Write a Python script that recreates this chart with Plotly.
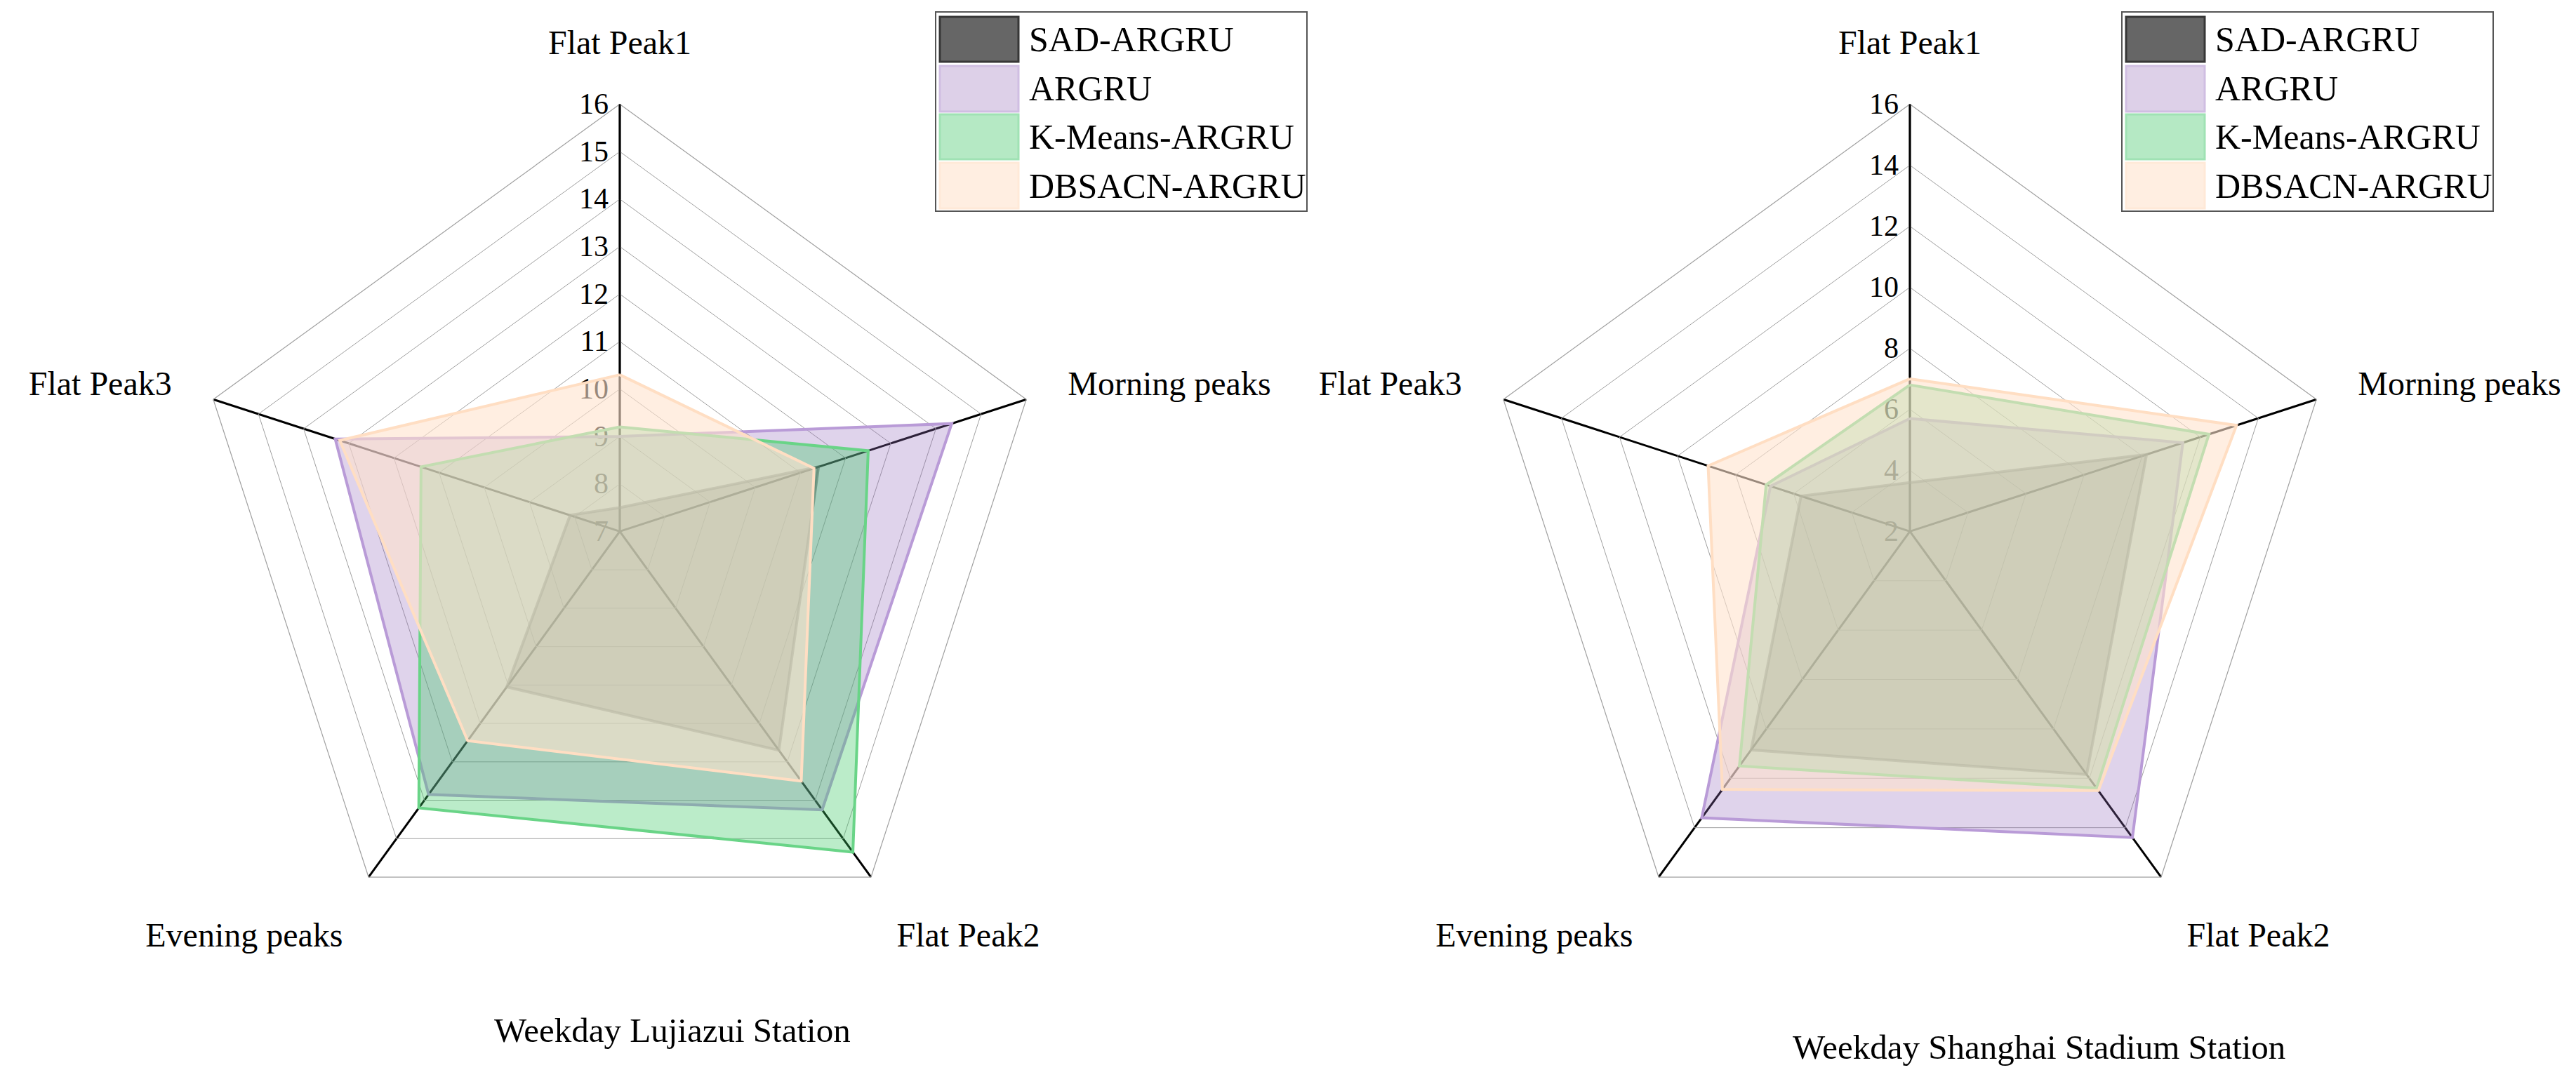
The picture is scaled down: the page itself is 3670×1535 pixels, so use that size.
import plotly.graph_objects as go

# radar axes
categories = ["Flat Peak1", "Morning peaks", "Flat Peak2", "Evening peaks", "Flat Peak3"]

# Weekday Lujiazui Station
sad_lujiazui = [7.5, 11.4, 12.7, 11.05, 8.1]
argru_lujiazui = [9.0, 14.35, 14.25, 13.85, 13.3]
kmeans_lujiazui = [9.2, 12.5, 15.35, 14.2, 11.4]
dbsacn_lujiazui = [10.3, 11.3, 13.5, 12.45, 13.2]

# Weekday Shanghai Stadium Station
sad_stadium = [3.6, 10.15, 11.85, 10.85, 5.75]
argru_stadium = [5.7, 11.4, 14.4, 13.6, 6.8]
kmeans_stadium = [6.8, 12.3, 12.4, 11.5, 6.95]
dbsacn_stadium = [7.0, 13.25, 12.5, 12.45, 8.95]

model_names = ["SAD-ARGRU", "ARGRU", "K-Means-ARGRU", "DBSACN-ARGRU"]

FONT = "Liberation Serif, Times New Roman, serif"
W, H = 3670, 1535

styles = {
    "SAD-ARGRU": dict(fill="rgba(30,30,30,0.3)", line="rgba(70,70,70,0.6)",
                      key_fill="rgb(102,102,102)", key_line="rgb(55,55,55)"),
    "ARGRU": dict(fill="rgba(150,110,190,0.3)", line="rgba(185,155,215,1)",
                  key_fill="rgb(221,208,232)", key_line="rgb(208,190,226)"),
    "K-Means-ARGRU": dict(fill="rgba(60,200,100,0.35)", line="rgba(105,212,135,1)",
                          key_fill="rgb(181,233,196)", key_line="rgb(160,226,180)"),
    "DBSACN-ARGRU": dict(fill="rgba(255,227,205,0.6)", line="rgba(255,222,195,1)",
                         key_fill="rgb(255,238,225)", key_line="rgb(255,233,216)"),
}


def closed(values):
    return list(values) + [values[0]]


def px(x, y):
    return x / W, 1 - y / H


fig = go.Figure()

panels = [
    ("polar", [sad_lujiazui, argru_lujiazui, kmeans_lujiazui, dbsacn_lujiazui]),
    ("polar2", [sad_stadium, argru_stadium, kmeans_stadium, dbsacn_stadium]),
]

for subplot, series in panels:
    for name, values in zip(model_names, series):
        st = styles[name]
        fig.add_trace(
            go.Scatterpolar(
                r=closed(values),
                theta=closed(categories),
                name=name,
                mode="lines",
                fill="toself",
                fillcolor=st["fill"],
                line=dict(color=st["line"], width=4),
                subplot=subplot,
                showlegend=False,
            )
        )

radial_common = dict(
    angle=90,
    side="counterclockwise",
    tickangle=90,
    showline=True,
    linecolor="black",
    linewidth=2.5,
    gridcolor="#a0a0a0",
    gridwidth=1.2,
    ticks="",
    tickfont=dict(family=FONT, size=42, color="black"),
    layer="below traces",
)
angular_common = dict(
    rotation=90,
    direction="clockwise",
    showline=True,
    linecolor="#a0a0a0",
    linewidth=1.2,
    gridcolor="black",
    gridwidth=2.5,
    ticks="outside",
    ticklen=52,
    tickcolor="rgba(0,0,0,0)",
    tickfont=dict(family=FONT, size=48, color="black"),
    layer="below traces",
)

# hand-drawn legend boxes (large swatches like the original)
shapes = []
annotations = []
for x_off in (0, 1690):
    bx0, by0, bx1, by1 = 1325 + x_off, 9, 1854 + x_off, 293
    x0, y0 = px(bx0, by0)
    x1, y1 = px(bx1, by1)
    shapes.append(dict(type="rect", xref="paper", yref="paper", x0=x0, x1=x1, y0=y1, y1=y0,
                       line=dict(color="#555", width=2), fillcolor="white"))
    rows = [(16, 80), (86, 151), (155, 219), (224, 289)]
    for name, (ry0, ry1) in zip(model_names, rows):
        st = styles[name]
        sx0, sy0 = px(1331 + x_off, ry0)
        sx1, sy1 = px(1443 + x_off, ry1)
        shapes.append(dict(type="rect", xref="paper", yref="paper", x0=sx0, x1=sx1, y0=sy1, y1=sy0,
                           line=dict(color=st["key_line"], width=3), fillcolor=st["key_fill"]))
        tx, ty = px(1456 + x_off, (ry0 + ry1) / 2)
        annotations.append(dict(text=name, x=tx, y=ty, xref="paper", yref="paper",
                                xanchor="left", yanchor="middle", showarrow=False,
                                font=dict(family=FONT, size=50, color="black")))

# station titles
annotations.append(dict(text="Weekday Lujiazui Station", x=950 / W, y=1 - 1460 / H,
                        xref="paper", yref="paper", xanchor="center", yanchor="middle",
                        showarrow=False, font=dict(family=FONT, size=49)))
annotations.append(dict(text="Weekday Shanghai Stadium Station", x=2897 / W, y=1 - 1484 / H,
                        xref="paper", yref="paper", xanchor="center", yanchor="middle",
                        showarrow=False, font=dict(family=FONT, size=49)))

fig.update_layout(
    width=W,
    height=H,
    margin=dict(l=0, r=0, t=0, b=0),
    paper_bgcolor="white",
    plot_bgcolor="white",
    font=dict(family=FONT, size=48, color="black"),
    showlegend=False,
    polar=dict(
        domain=dict(x=[0.07248, 0.40436], y=[0.1151, 0.9085]),
        gridshape="linear",
        bgcolor="white",
        radialaxis=dict(range=[7, 16], tick0=7, dtick=1, **radial_common),
        angularaxis=dict(**angular_common),
    ),
    polar2=dict(
        domain=dict(x=[0.57330, 0.90518], y=[0.1151, 0.9085]),
        gridshape="linear",
        bgcolor="white",
        radialaxis=dict(range=[2, 16], tick0=2, dtick=2, **radial_common),
        angularaxis=dict(**angular_common),
    ),
    shapes=shapes,
    annotations=annotations,
)

fig.write_html("out.html")
